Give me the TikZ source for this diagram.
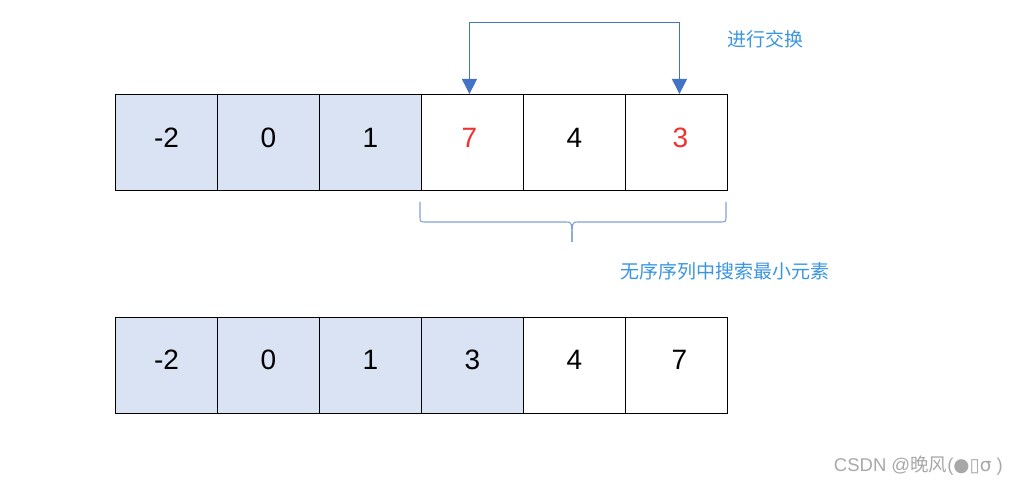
\documentclass[tikz,border=0pt]{standalone}
\usepackage{fontspec}
\setmainfont{Liberation Sans}
\newfontfamily\cjk{Noto Sans CJK SC}
\newfontfamily\dvs{DejaVu Sans}
\usetikzlibrary{arrows.meta}
\definecolor{cellblue}{HTML}{DAE3F3}
\definecolor{arrblue}{HTML}{4472C4}
\definecolor{lblblue}{HTML}{3A95E0}
\definecolor{bracecol}{HTML}{7F9FD6}
\definecolor{wmgray}{HTML}{A8A8A8}
\begin{document}
\begin{tikzpicture}[x=1pt,y=-1pt,
  cell/.style={draw=black,line width=0.9pt,minimum width=102pt,minimum height=96pt,inner sep=0pt,anchor=north west,font=\fontsize{28}{28}\selectfont},
  sorted/.style={cell,fill=cellblue},
  red/.style={text={rgb,255:red,240;green,50;blue,50}},
  swaparrow/.style={draw=arrblue,line width=1pt,{Triangle[width=15pt,length=15pt]}-{Triangle[width=15pt,length=15pt]}},
  lbl/.style={font=\cjk\fontsize{19}{19}\selectfont,text=lblblue,inner sep=0pt}
]
\useasboundingbox (0,0) rectangle (1015,486);
% top row
\node[sorted] (c1) at (115,94) {\raisebox{9pt}{-2}};
\node[sorted] (c2) at (217,94) {\raisebox{9pt}{0}};
\node[sorted] (c3) at (319,94) {\raisebox{9pt}{1}};
\node[cell,red] (c4) at (421,94) {\raisebox{9pt}{\hspace*{-6pt}7}};
\node[cell] (c5) at (523,94) {\raisebox{9pt}{4}};
\node[cell,red] (c6) at (625,94) {\raisebox{9pt}{\hspace*{8pt}3}};
% bottom row
\node[sorted] (d1) at (115,317) {\raisebox{11pt}{-2}};
\node[sorted] (d2) at (217,317) {\raisebox{11pt}{0}};
\node[sorted] (d3) at (319,317) {\raisebox{11pt}{1}};
\node[sorted] (d4) at (421,317) {\raisebox{11pt}{3}};
\node[cell] (d5) at (523,317) {\raisebox{11pt}{4}};
\node[cell] (d6) at (625,317) {\raisebox{11pt}{\hspace*{6pt}7}};
% swap arrow
\coordinate (top) at (0,23);
\draw[swaparrow] ([xshift=-3pt]c4.north) -- ([xshift=-3pt]c4.north |- top) -- ([xshift=3pt]c6.north |- top) -- ([xshift=3pt]c6.north);
\node[lbl,anchor=west] (swaplbl) at (727,39) {进行交换};
% brace
\coordinate (bl) at (420,202);
\coordinate (br) at (726,202);
\coordinate (tip) at (572,242);
\draw[bracecol,line width=1.1pt] (bl) -- (420,216) .. controls (420,222) .. (426,222) -- (566,222) .. controls (572,222) .. (tip);
\draw[bracecol,line width=1.1pt] (br) -- (726,216) .. controls (726,222) .. (720,222) -- (578,222) .. controls (572,222) .. (tip);
\node[lbl,anchor=west] (searchlbl) at (620,271) {无序序列中搜索最小元素};
% watermark
\node[anchor=east,inner sep=0pt,text=wmgray,font=\fontsize{18.5}{18.5}\selectfont] (wm) at (1003,466) {CSDN @{\cjk 晚风}({\dvs ●▯σ} )};
\end{tikzpicture}
\end{document}
